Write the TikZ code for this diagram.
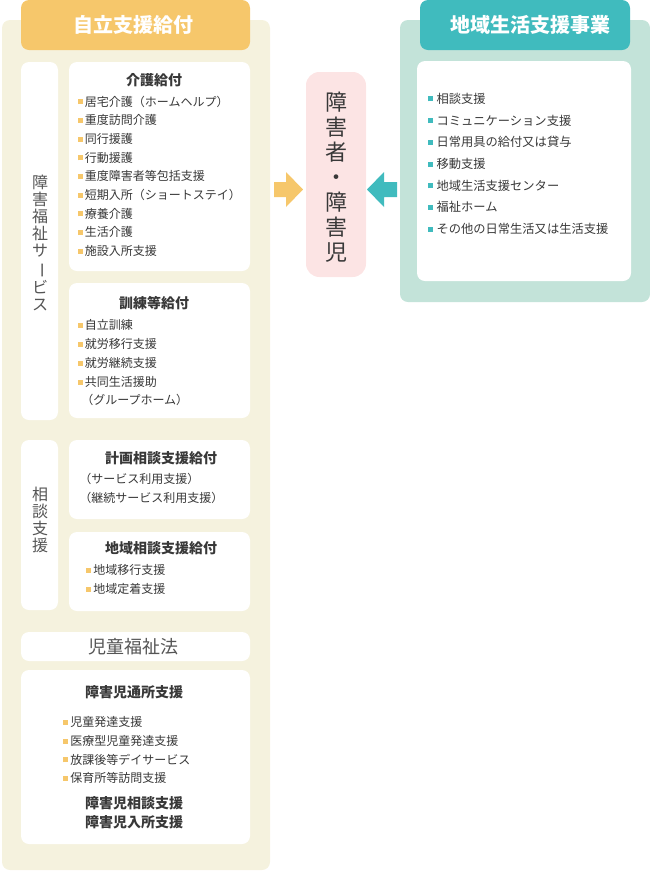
\documentclass[tikz,border=0pt]{standalone}
\usepackage{fontspec}
\usepackage{graphicx}
\usetikzlibrary{fit}
\setmainfont{Noto Sans CJK JP}
\definecolor{beige}{HTML}{F5F2DE}
\definecolor{orng}{HTML}{F6C76B}
\definecolor{tealdk}{HTML}{40BBBE}
\definecolor{teallt}{HTML}{C3E3D9}
\definecolor{pinkbg}{HTML}{FCE4E4}
\definecolor{txt}{HTML}{383838}
\definecolor{graytxt}{HTML}{555555}
\newcommand{\obul}{\textcolor{orng}{\rule[1.4pt]{3.75pt}{3.75pt}}\hspace{1.6pt}}
\newcommand{\tbul}{\textcolor{tealdk}{\rule[1.4pt]{3.75pt}{3.75pt}}\hspace{2.5pt}}
\newcommand{\vbar}{\rotatebox[origin=c]{-90}{ー}}
\tikzset{
  panel/.style={inner sep=0pt, rounded corners=6pt},
  wbox/.style={fill=white, inner sep=0pt, rounded corners=6pt},
  item/.style={anchor=west, inner sep=0pt, text=txt, font=\fontsize{9}{11}\selectfont},
  ritem/.style={anchor=west, inner sep=0pt, text=txt, font=\fontsize{9.2}{11}\selectfont},
  ttl/.style={inner sep=0pt, text=txt, font=\fontsize{10.5}{12}\selectfont\bfseries},
  tabtxt/.style={inner sep=0pt, text=white, font=\fontsize{15}{17}\selectfont\bfseries},
  vlabel/.style={inner sep=0pt, text=graytxt, align=center, font=\fontsize{12}{12.75}\selectfont},
}
\begin{document}
\begin{tikzpicture}[x=0.75pt, y=-0.75pt]
\useasboundingbox (0,0) rectangle (650,872);

% ---------- left panel ----------
\node[panel, fill=beige, fit={(2,20)(270,870)}] (lpanel) {};
\node[panel, fill=orng, fit={(21,0)(250,50)}] (ltab) {};
\node[tabtxt] (ltabt) at (133,25) {自立支援給付};

\node[wbox, fit={(21,62)(58,420)}] (vl1) {};
\node[vlabel] (vl1t) at (40,243) {障\\害\\福\\祉\\サ\\\vbar\\ビ\\ス};

\node[wbox, fit={(69,62)(250,271)}] (kaigo) {};
\node[ttl] (kaigot) at (154,80) {介護給付};
\node[item] (k1) at (77.5,101.5) {\obul 居宅介護（ホームヘルプ）};
\node[item] (k2) at (77.5,120.2) {\obul 重度訪問介護};
\node[item] (k3) at (77.5,138.9) {\obul 同行援護};
\node[item] (k4) at (77.5,157.6) {\obul 行動援護};
\node[item] (k5) at (77.5,176.3) {\obul 重度障害者等包括支援};
\node[item] (k6) at (77.5,195) {\obul 短期入所（ショートステイ）};
\node[item] (k7) at (77.5,213.7) {\obul 療養介護};
\node[item] (k8) at (77.5,232.4) {\obul 生活介護};
\node[item] (k9) at (77.5,251.1) {\obul 施設入所支援};

\node[wbox, fit={(69,283)(250,418)}] (kunren) {};
\node[ttl] (kunrent) at (154,303) {訓練等給付};
\node[item] (r1) at (77.5,325) {\obul 自立訓練};
\node[item] (r2) at (77.5,344) {\obul 就労移行支援};
\node[item] (r3) at (77.5,363) {\obul 就労継続支援};
\node[item] (r4) at (77.5,382) {\obul 共同生活援助};
\node[item] (r5) at (81,400) {（グループホーム）};

\node[wbox, fit={(21,440)(58,610)}] (vl2) {};
\node[vlabel] (vl2t) at (40,520) {相\\談\\支\\援};

\node[wbox, fit={(69,440)(250,519)}] (keikaku) {};
\node[ttl] (keikakut) at (161,458) {計画相談支援給付};
\node[item] (p1) at (79,479) {（サービス利用支援）};
\node[item] (p2) at (79,498) {（継続サービス利用支援）};

\node[wbox, fit={(69,532)(250,611)}] (chiiki) {};
\node[ttl] (chiikit) at (161,548) {地域相談支援給付};
\node[item] (c1) at (86,570) {\obul 地域移行支援};
\node[item] (c2) at (86,589) {\obul 地域定着支援};

\node[wbox, fit={(21,632)(250,661)}] (jidou) {};
\node[inner sep=0pt, text=graytxt, font=\fontsize{13.5}{15}\selectfont] (jidout) at (133,647) {児童福祉法};

\node[wbox, fit={(21,670)(250,844)}] (shougaiji) {};
\node[ttl] (sj0) at (134,692) {障害児通所支援};
\node[item] (s1) at (63,722) {\obul 児童発達支援};
\node[item] (s2) at (63,741) {\obul 医療型児童発達支援};
\node[item] (s3) at (63,759.5) {\obul 放課後等デイサービス};
\node[item] (s4) at (63,778) {\obul 保育所等訪問支援};
\node[ttl] (sj1) at (134,803) {障害児相談支援};
\node[ttl] (sj2) at (134,822) {障害児入所支援};

% ---------- centre ----------
\node[wbox, fill=pinkbg, rounded corners=10pt, fit={(306,72)(366,277)}] (person) {};
\node[inner sep=0pt, text=txt, align=center, font=\fontsize{16.5}{18.75}\selectfont] (persont) at (336,177) {障\\害\\者\\・\\障\\害\\児};

\fill[orng] (274,182) -- (286,182) -- (286,172) -- (303,189.5) -- (286,207) -- (286,197) -- (274,197) -- cycle;
\fill[tealdk] (397,182) -- (384,182) -- (384,172) -- (367,189.5) -- (384,207) -- (384,197) -- (397,197) -- cycle;

% ---------- right panel ----------
\node[panel, fill=teallt, fit={(400,20)(650,302)}] (rpanel) {};
\node[panel, fill=tealdk, fit={(420,0)(630,50)}] (rtab) {};
\node[tabtxt] (rtabt) at (530,25) {地域生活支援事業};
\node[wbox, fit={(417,61)(631,281)}] (chiikiseikatsu) {};
\node[ritem] (t1) at (428,98.7) {\tbul 相談支援};
\node[ritem] (t2) at (428,120.4) {\tbul コミュニケーション支援};
\node[ritem] (t3) at (428,142.1) {\tbul 日常用具の給付又は貸与};
\node[ritem] (t4) at (428,163.8) {\tbul 移動支援};
\node[ritem] (t5) at (428,185.5) {\tbul 地域生活支援センター};
\node[ritem] (t6) at (428,207.2) {\tbul 福祉ホーム};
\node[ritem] (t7) at (428,228.9) {\tbul その他の日常生活又は生活支援};
\end{tikzpicture}
\end{document}
